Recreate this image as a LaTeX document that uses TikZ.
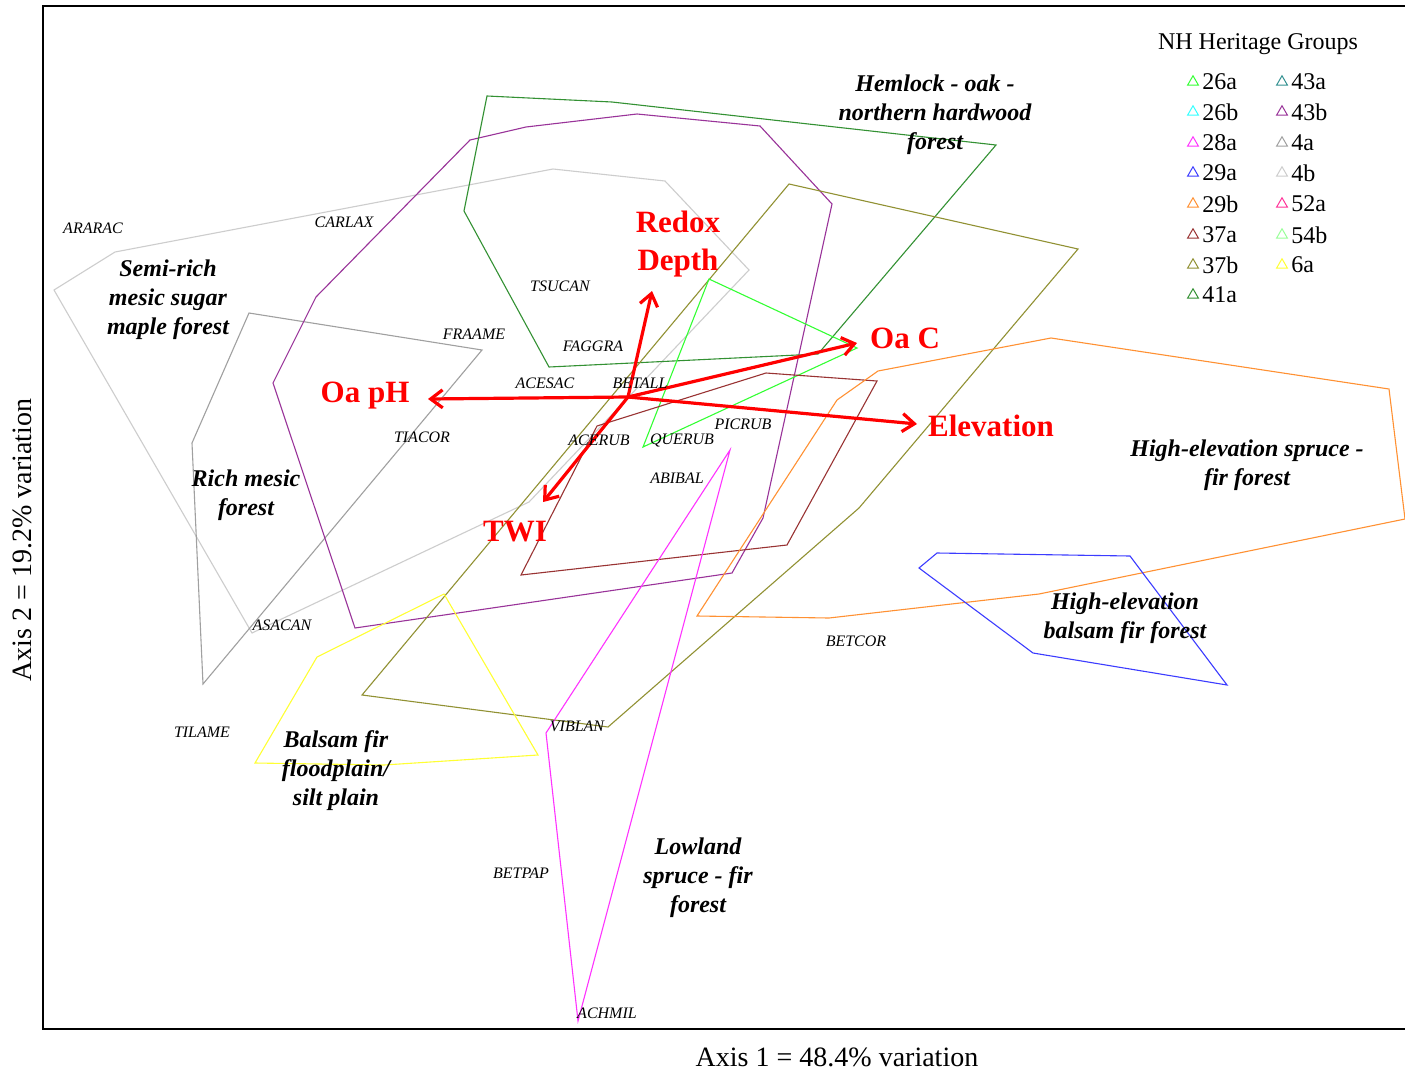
\documentclass[tikz,border=0pt]{standalone}
\usepackage{fontspec}
\setmainfont{Liberation Serif}
\usepackage{tikz}
\usetikzlibrary{arrows.meta}
\usetikzlibrary{shapes.geometric}
\definecolor{g26a}{RGB}{51,255,51}
\definecolor{g26b}{RGB}{51,255,255}
\definecolor{g28a}{RGB}{255,51,255}
\definecolor{g29a}{RGB}{60,60,255}
\definecolor{g29b}{RGB}{255,145,51}
\definecolor{g37a}{RGB}{153,51,51}
\definecolor{g37b}{RGB}{145,145,51}
\definecolor{g41a}{RGB}{51,145,51}
\definecolor{g43a}{RGB}{51,145,145}
\definecolor{g43b}{RGB}{153,51,153}
\definecolor{g4a}{RGB}{160,160,160}
\definecolor{g4b}{RGB}{205,205,205}
\definecolor{g52a}{RGB}{255,51,153}
\definecolor{g54b}{RGB}{153,255,153}
\definecolor{g6a}{RGB}{255,255,51}

\begin{document}
\begin{tikzpicture}[x=1pt, y=-1pt, >={Straight Barb[length=12pt,width=18pt]},
  hull/.style={line width=1.1pt},
  vec/.style={->, red, line width=3.2pt},
  sp/.style={font=\fontsize{16}{19}\selectfont\itshape},
  grp/.style={align=center, font=\fontsize{24}{29}\selectfont\bfseries\itshape},
  vr/.style={align=center, text=red, font=\fontsize{31}{38}\selectfont\bfseries},
  mk/.style={regular polygon, regular polygon sides=3, draw, line width=1pt, inner sep=0pt, minimum size=12.5pt},
  lg/.style={font=\fontsize{24}{28}\selectfont, inner sep=2pt, label distance=3pt},]
\fill[white] (0,0) rectangle (1405,1071);
\useasboundingbox (0,0) rectangle (1405,1071);
\draw[line width=2.5pt] (1405,6) -- (43,6) -- (43,1029) -- (1405,1029);

\draw[hull, g4b] (54,290) -- (115,252) -- (553,169) -- (665,181) -- (749,270) -- (529,502) -- (252,633) -- cycle;
\draw[hull, g4a] (249,313) -- (482,350) -- (203,684) -- (192,443) -- cycle;
\draw[hull, g43b] (273,383) -- (316,297) -- (470,140) -- (526,127) -- (637,114) -- (760,126) -- (832,204) -- (763,518) -- (732,573) -- (355,628) -- cycle;
\draw[hull, g41a] (487,96) -- (612,102) -- (996,145) -- (818,354) -- (549,367) -- (464,211) -- cycle;
\draw[hull, g37b] (789,184) -- (1078,249) -- (859,508) -- (608,727) -- (362,695) -- cycle;
\draw[hull, g26a] (709,279) -- (857,348) -- (643,447) -- cycle;
\draw[hull, g37a] (766,373) -- (877,381) -- (787,545) -- (521,575) -- (597,426) -- cycle;
\draw[hull, g29b] (878,371) -- (1051,338) -- (1389,389) -- (1405,519) -- (1039,594) -- (829,618) -- (697,616) -- (837,400) -- cycle;
\draw[hull, g29a] (937,553) -- (1130,556) -- (1227,685) -- (1033,653) -- (919,568) -- cycle;
\draw[hull, g6a] (444,594) -- (538,755) -- (384,765) -- (255,763) -- (317,657) -- cycle;
\draw[hull, g28a] (730,450) -- (578,1021) -- (546,733) -- cycle;

\coordinate (0) at (628,397);
\coordinate (t1) at (428,399);
\coordinate (t2) at (652,291);
\coordinate (t3) at (857,343);
\coordinate (t4) at (917,424);
\coordinate (t5) at (543,502);
 \draw[vec] (0)--(t1);
 \draw[vec] (0)--(t2);
 \draw[vec] (0)--(t3);
 \draw[vec] (0)--(t4);
 \draw[vec] (0)--(t5);
\node[vr] (31) at (365,396) {Oa pH};
\node[vr] (32) at (678,244) {Redox\\Depth};
\node[vr] (33) at (905,338) {Oa C};
\node[vr] (34) at (991,426) {Elevation};
\node[vr] (35) at (515,532) {TWI};

\node[sp] (1) at (93,228) {ARARAC};
\node[sp] (2) at (344,222) {CARLAX};
\node[sp] (3) at (560,286) {TSUCAN};
\node[sp] (4) at (474,334) {FRAAME};
\node[sp] (5) at (593,346) {FAGGRA};
\node[sp] (6) at (545,383) {ACESAC};
\node[sp] (7) at (640,383) {BETALL};
\node[sp] (8) at (422,437) {TIACOR};
\node[sp] (9) at (599,440) {ACERUB};
\node[sp] (10) at (682,440) {QUERUB};
\node[sp] (11) at (743,424) {PICRUB};
\node[sp] (12) at (677,478) {ABIBAL};
\node[sp] (13) at (282,625) {ASACAN};
\node[sp] (14) at (856,641) {BETCOR};
\node[sp] (15) at (202,732) {TILAME};
\node[sp] (16) at (577,726) {VIBLAN};
\node[sp] (17) at (521,873) {BETPAP};
\node[sp] (18) at (607,1013) {ACHMIL};

\node[grp] (21) at (168,300) {Semi-rich\\mesic sugar\\maple forest};
\node[grp] (22) at (246,495) {Rich mesic\\forest};
\node[grp] (23) at (935,115) {Hemlock - oak -\\northern hardwood\\forest};
\node[grp] (24) at (1247,465) {High-elevation spruce -\\fir forest};
\node[grp] (25) at (1125,618) {High-elevation\\balsam fir forest};
\node[grp] (26) at (336,771) {Balsam fir\\floodplain/\\silt plain};
\node[grp] (27) at (698,878) {Lowland\\spruce - fir\\forest};

\node[font=\fontsize{24}{28}\selectfont] (40) at (1258,44) {NH Heritage Groups};
\node[mk, draw=g26a, label={[lg]right:26a}] (41) at (1193,82) {};
\node[mk, draw=g26b, label={[lg]right:26b}] (42) at (1193,112) {};
\node[mk, draw=g28a, label={[lg]right:28a}] (43) at (1193,143) {};
\node[mk, draw=g29a, label={[lg]right:29a}] (44) at (1193,173) {};
\node[mk, draw=g29b, label={[lg]right:29b}] (45) at (1193,204) {};
\node[mk, draw=g37a, label={[lg]right:37a}] (46) at (1193,235) {};
\node[mk, draw=g37b, label={[lg]right:37b}] (47) at (1193,265) {};
\node[mk, draw=g41a, label={[lg]right:41a}] (48) at (1193,295) {};
\node[mk, draw=g43a, label={[lg]right:43a}] (49) at (1282,82) {};
\node[mk, draw=g43b, label={[lg]right:43b}] (50) at (1282,112) {};
\node[mk, draw=g4a, label={[lg]right:4a}] (51) at (1282,143) {};
\node[mk, draw=g4b, label={[lg]right:4b}] (52) at (1282,173) {};
\node[mk, draw=g52a, label={[lg]right:52a}] (53) at (1282,204) {};
\node[mk, draw=g54b, label={[lg]right:54b}] (54) at (1282,235) {};
\node[mk, draw=g6a, label={[lg]right:6a}] (55) at (1282,265) {};

\node[font=\fontsize{28}{32}\selectfont] (60) at (837,1057) {Axis 1 = 48.4\% variation};
\node[font=\fontsize{28}{32}\selectfont, rotate=90] (61) at (22,540) {Axis 2 = 19.2\% variation};
  \end{tikzpicture}
\end{document}
